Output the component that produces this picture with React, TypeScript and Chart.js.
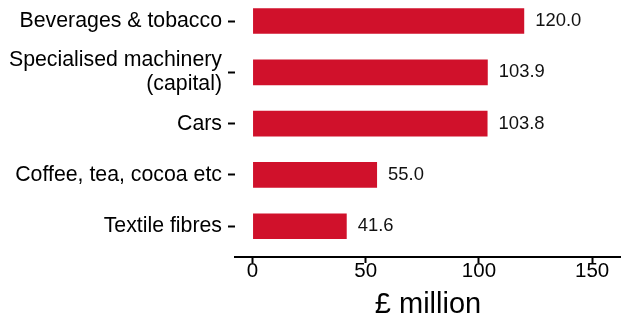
import React, { useEffect, useRef } from "react";
import { Chart, registerables } from "chart.js";

Chart.register(...registerables);

const categories = [
  "Beverages & tobacco",
  "Specialised machinery\n(capital)",
  "Cars",
  "Coffee, tea, cocoa etc",
  "Textile fibres",
];
const values = [120.0, 103.9, 103.8, 55.0, 41.6];
const xTicks = [0, 50, 100, 150];
const categoryPositions = [1, 2, 3, 4, 5];

const FONT = "'Liberation Sans', Arial, sans-serif";

const valueLabelPlugin = {
  id: "valueLabels",
  afterDatasetsDraw(chart: any) {
    const ctx = chart.ctx;
    const meta = chart.getDatasetMeta(0);
    ctx.save();
    ctx.font = `18.4px ${FONT}`;
    ctx.fillStyle = "#111";
    ctx.textAlign = "left";
    ctx.textBaseline = "middle";
    meta.data.forEach((bar: any, i: number) => {
      ctx.fillText(values[i].toFixed(1), bar.x + 11, bar.y);
    });
    ctx.restore();
  },
};

export default function App() {
  const ref = useRef<HTMLCanvasElement | null>(null);

  useEffect(() => {
    if (!ref.current) return;
    const chart = new Chart(ref.current, {
      type: "bar",
      data: {
        datasets: [
          {
            data: values.map((v, i) => ({ x: v, y: categoryPositions[i] })),
            backgroundColor: "#d0112b",
            borderWidth: 0,
            categoryPercentage: 0.5,
            barPercentage: 1,
          } as any,
        ],
      },
      options: {
        indexAxis: "y",
        animation: false,
        responsive: false,
        layout: { padding: 0 },
        plugins: {
          legend: { display: false },
          tooltip: { enabled: false },
        },
        scales: {
          x: {
            type: "linear",
            min: -7.75,
            max: 162.75,
            offset: false,
            afterBuildTicks: (s: any) => {
              s.ticks = xTicks.map((value) => ({ value }));
            },
            afterFit: (s: any) => {
              s.height = 62;
            },
            grid: {
              offset: false,
              drawOnChartArea: false,
              drawTicks: true,
              tickLength: 6,
              tickWidth: 2,
              tickColor: "#000",
            },
            border: { display: true, color: "#000", width: 2 },
            ticks: {
              color: "#000",
              padding: -2,
              font: { family: FONT, size: 20.5, lineHeight: 1 },
              callback: (v: any) => String(v),
            },
            title: {
              display: true,
              text: "£ million",
              color: "#000",
              padding: 0,
              font: { family: FONT, size: 29, lineHeight: 1 },
            },
          },
          y: {
            type: "linear",
            reverse: true,
            min: 0.59,
            max: 5.6,
            offset: false,
            afterBuildTicks: (s: any) => {
              s.ticks = categoryPositions.map((value) => ({ value }));
            },
            afterFit: (s: any) => {
              s.width = 235;
              s.paddingTop = 0;
              s.paddingBottom = 0;
            },
            grid: {
              offset: false,
              drawOnChartArea: false,
              drawTicks: true,
              tickLength: 7,
              tickWidth: 2,
              tickColor: "#000",
            },
            border: { display: false },
            ticks: {
              color: "#000",
              padding: 6,
              font: { family: FONT, size: 21.3, lineHeight: 1.12 },
              callback: (v: any) => {
                const idx = categoryPositions.indexOf(Number(v));
                if (idx < 0) return "";
                const label = categories[idx];
                return label.includes("\n") ? label.split("\n") : label;
              },
            },
          },
        },
      },
      plugins: [valueLabelPlugin],
    });
    return () => chart.destroy();
  }, []);

  return (
    <div
      style={{
        position: "absolute",
        left: 0,
        top: 0,
        width: 621,
        height: 319,
        background: "#fff",
      }}
    >
      <canvas ref={ref} width={621} height={319} style={{ display: "block" }} />
    </div>
  );
}
